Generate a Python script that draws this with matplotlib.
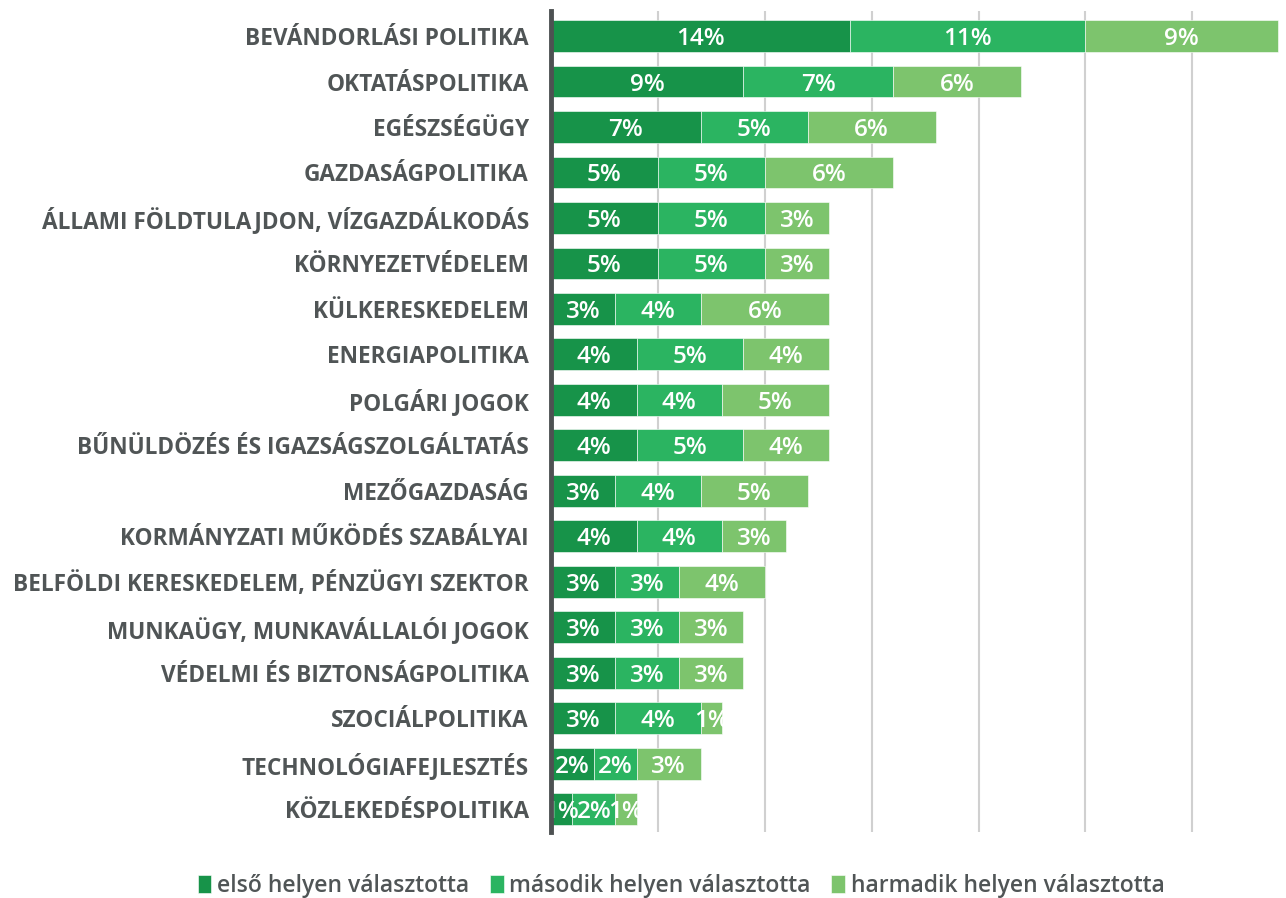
import numpy as np
import matplotlib.pyplot as plt

temak = [
    "BEVÁNDORLÁSI POLITIKA",
    "OKTATÁSPOLITIKA",
    "EGÉSZSÉGÜGY",
    "GAZDASÁGPOLITIKA",
    "ÁLLAMI FÖLDTULAJDON, VÍZGAZDÁLKODÁS",
    "KÖRNYEZETVÉDELEM",
    "KÜLKERESKEDELEM",
    "ENERGIAPOLITIKA",
    "POLGÁRI JOGOK",
    "BŰNÜLDÖZÉS ÉS IGAZSÁGSZOLGÁLTATÁS",
    "MEZŐGAZDASÁG",
    "KORMÁNYZATI MŰKÖDÉS SZABÁLYAI",
    "BELFÖLDI KERESKEDELEM, PÉNZÜGYI SZEKTOR",
    "MUNKAÜGY, MUNKAVÁLLALÓI JOGOK",
    "VÉDELMI ÉS BIZTONSÁGPOLITIKA",
    "SZOCIÁLPOLITIKA",
    "TECHNOLÓGIAFEJLESZTÉS",
    "KÖZLEKEDÉSPOLITIKA",
]
elso = [14, 9, 7, 5, 5, 5, 3, 4, 4, 4, 3, 4, 3, 3, 3, 3, 2, 1]
masodik = [11, 7, 5, 5, 5, 5, 4, 5, 4, 5, 4, 4, 3, 3, 3, 4, 2, 2]
harmadik = [9, 6, 6, 6, 3, 3, 6, 4, 5, 4, 5, 3, 4, 3, 3, 1, 3, 1]
sorozatok = ["első helyen választotta", "második helyen választotta",
             "harmadik helyen választotta"]
szinek = ["#179349", "#2bb461", "#7dc46d"]

plt.rcParams['font.family'] = ['Open Sans', 'DejaVu Sans']

fig = plt.figure(figsize=(12.86, 8.98), dpi=100)
ax = fig.add_axes([551 / 1286, 1 - 832 / 898, (1281 - 551) / 1286, (832 - 11) / 898])

y = np.arange(len(temak))
bal = np.zeros(len(temak))
for ertekek, nev, szin in zip([elso, masodik, harmadik], sorozatok, szinek):
    ertekek = np.array(ertekek, dtype=float)
    bars = ax.barh(y, ertekek, left=bal, height=0.7, color=szin, label=nev,
                   edgecolor='white', linewidth=0.4, zorder=3)
    for b, v in zip(bars, ertekek):
        ax.text(b.get_x() + b.get_width() / 2, b.get_y() + b.get_height() / 2,
                f"{v:.0f}%", ha='center', va='center_baseline', color='white',
                fontsize=17.5, fontweight='semibold', zorder=4)
    bal += ertekek

ax.set_xlim(0, 34.15)
ax.set_ylim(len(temak) - 0.5, -0.55)
ax.set_yticks(y)
ax.set_yticklabels(temak, fontsize=16.3, fontweight='bold', color='#505556')
ax.tick_params(axis='y', length=0, pad=16)
ax.set_xticks([5, 10, 15, 20, 25, 30])
ax.tick_params(axis='x', length=0, labelbottom=False)
ax.grid(axis='x', color='#d0d0d0', linewidth=1.5, zorder=0)
for s in ['top', 'right', 'bottom']:
    ax.spines[s].set_visible(False)
ax.spines['left'].set_color('#4d5152')
ax.spines['left'].set_linewidth(3.5)
ax.spines['left'].set_zorder(5)

fig.legend(loc='center', bbox_to_anchor=(681 / 1286, 1 - 886 / 898), ncol=3,
           frameon=False, handlelength=0.6, handleheight=0.8,
           handletextpad=0.25, columnspacing=0.9,
           prop={'weight': 'semibold', 'size': 16.5})
for t in fig.legends[0].get_texts():
    t.set_color('#505556')

fig.savefig("out.png", dpi=100)
